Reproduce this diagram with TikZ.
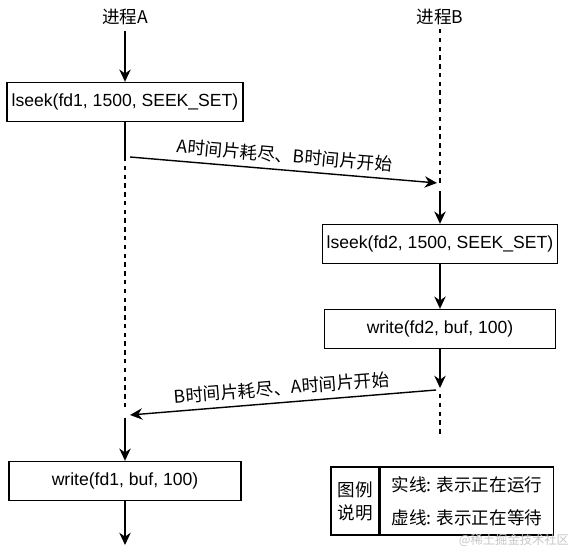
\documentclass[tikz,border=0pt]{standalone}
\usepackage{fontspec}
\setmainfont{Liberation Sans}
\newfontfamily\cjk{Noto Sans CJK SC}
\usetikzlibrary{arrows.meta,positioning}
\tikzset{%
	procbox/.style  = {draw, rectangle, thick, minimum height=0.78cm, text centered, inner sep=2pt},
	arrow/.style    = {thick, -{Stealth[length=7pt,width=6.5pt]}},
	waitline/.style = {thick, dash pattern=on 2.5pt off 2.5pt},
	runline/.style  = {thick},
	legbox/.style   = {draw, thick, minimum height=1.36cm, font=\cjk},
}
\begin{document}
\begin{tikzpicture}[x=0.02cm, y=-0.02cm]
	\useasboundingbox (0,0) rectangle (575,551);
	% process titles
	\node (procA) at (125,17) {\cjk 进程A};
	\node (procB) at (440,17) {\cjk 进程B};
	% boxes
	\node[procbox, minimum width=4.72cm] (seekA) at (125,102) {lseek(fd1, 1500, SEEK\_SET)};
	\node[procbox, minimum width=4.7cm] (seekB) at (440,244) {lseek(fd2, 1500, SEEK\_SET)};
	\node[procbox, minimum width=4.62cm] (writeB) at (440,329) {write(fd2, buf, 100)};
	\node[procbox, minimum width=4.64cm] (writeA) at (125,481) {write(fd1, buf, 100)};
	% points on the lifelines
	\coordinate (a1) at (125,157);
	\coordinate (a2) at (125,411);
	\coordinate (a3) at (125,418);
	\coordinate (aend) at (125,545);
	\coordinate (swA) at (130,157);
	\coordinate (swA2) at (130,415);
	\coordinate (b0) at (440,29);
	\coordinate (b1) at (440,186);
	\coordinate (b2) at (440,191);
	\coordinate (b3) at (440,388);
	\coordinate (b4) at (440,394);
	\coordinate (b5) at (440,436);
	\coordinate (swB) at (437,183);
	\coordinate (swB2) at (436,390);
	% process A
	\draw[arrow] (procA) -- (seekA);
	\draw[runline] (seekA) -- (a1);
	\draw[waitline] (a1) -- (a2);
	\draw[arrow] (a3) -- (writeA);
	\draw[arrow] (writeA) -- (aend);
	% process B
	\draw[waitline] (b0) -- (b1);
	\draw[arrow] (b2) -- (seekB);
	\draw[arrow] (seekB) -- (writeB);
	\draw[arrow] (writeB) -- (b3);
	\draw[waitline] (b4) -- (b5);
	% switches
	\draw[arrow] (swA) -- (swB) node[midway, above, sloped, font=\cjk] {A时间片耗尽、B时间片开始};
	\draw[arrow] (swB2) -- (swA2) node[midway, above, sloped, font=\cjk] {B时间片耗尽、A时间片开始};
	% legend
	\node[legbox, minimum width=0.96cm, align=center] (legkey) at (355,501) {图例\\[1pt]说明};
	\node[legbox, minimum width=3.46cm, anchor=west, align=left] (legtext) at (legkey.east) {实线: 表示正在运行\\[7pt]虚线: 表示正在等待};
	\node[text=gray!45, font=\cjk\scriptsize] (mark) at (514,540) {@稀土掘金技术社区};
\end{tikzpicture}
\end{document}
